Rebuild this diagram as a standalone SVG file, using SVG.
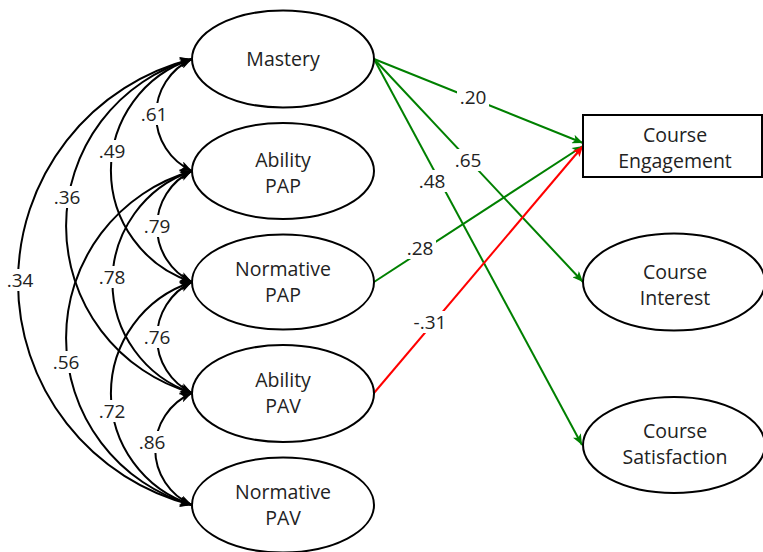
<svg xmlns="http://www.w3.org/2000/svg" width="763" height="552" viewBox="0 0 763 552">
<style>
  .node { fill: #fff; stroke: #000; stroke-width: 2; }
  .txt { font-family: "Open Sans", "Liberation Sans", sans-serif; font-size: 19.5px; fill: #222; text-anchor: middle; }
  .lbl { font-family: "Open Sans", "Liberation Sans", sans-serif; font-size: 19px; fill: #222; text-anchor: middle; }
  .cov { fill: none; stroke: #000; stroke-width: 2; marker-start: url(#ahK); marker-end: url(#ahK); }
  .pos { fill: none; stroke: #008000; stroke-width: 2; marker-end: url(#ahG); }
  .neg { fill: none; stroke: #ff0000; stroke-width: 2; marker-end: url(#ahR); }
  .bg { fill: #fff; stroke: none; }
</style>
<defs>
  <marker id="ahK" viewBox="0 0 12 10" refX="12" refY="5" markerWidth="13" markerHeight="10" markerUnits="userSpaceOnUse" orient="auto-start-reverse">
    <path d="M0,0 L12,5 L0,10 L3,5 z" fill="#000"/>
  </marker>
  <marker id="ahG" viewBox="0 0 12 10" refX="12" refY="5" markerWidth="12" markerHeight="9" markerUnits="userSpaceOnUse" orient="auto">
    <path d="M0,0 L12,5 L0,10 L3,5 z" fill="#008000"/>
  </marker>
  <marker id="ahR" viewBox="0 0 12 10" refX="12" refY="5" markerWidth="12" markerHeight="9" markerUnits="userSpaceOnUse" orient="auto">
    <path d="M0,0 L12,5 L0,10 L3,5 z" fill="#ff0000"/>
  </marker>
</defs>

<g id="connectors">
  <!-- covariances -->
  <path class="cov" d="M192,59 A61.6,61.6 0 0 0 192,171"/>
  <path class="cov" d="M192,171 A61.5,61.5 0 0 0 192,282"/>
  <path class="cov" d="M192,282 A61.5,61.5 0 0 0 192,393"/>
  <path class="cov" d="M192,393 A61,61 0 0 0 192,505"/>
  <path class="cov" d="M192,59 A117.2,117.2 0 0 0 192,282"/>
  <path class="cov" d="M192,171 A117.2,117.2 0 0 0 192,393"/>
  <path class="cov" d="M192,282 A117.2,117.2 0 0 0 192,505"/>
  <path class="cov" d="M192,59 A173.7,173.7 0 0 0 192,393"/>
  <path class="cov" d="M192,171 A173.7,173.7 0 0 0 192,505"/>
  <path class="cov" d="M192,59 A229.9,229.9 0 0 0 192,505"/>
  <!-- paths -->
  <path class="pos" d="M374,59 L583,143"/>
  <path class="pos" d="M374,59 L583,282"/>
  <path class="pos" d="M374,59 L582,445"/>
  <path class="pos" d="M374,282 L583,146"/>
  <path class="neg" d="M374,393 L583,146"/>
  <!-- label backgrounds -->
  <rect class="bg" x="138" y="103" width="32" height="22"/>
  <rect class="bg" x="96" y="140" width="32" height="22"/>
  <rect class="bg" x="51" y="186" width="32" height="22"/>
  <rect class="bg" x="4" y="269" width="32" height="22"/>
  <rect class="bg" x="141" y="215" width="32" height="22"/>
  <rect class="bg" x="96" y="266" width="32" height="22"/>
  <rect class="bg" x="141" y="326" width="32" height="22"/>
  <rect class="bg" x="50" y="351" width="32" height="22"/>
  <rect class="bg" x="96" y="400" width="32" height="22"/>
  <rect class="bg" x="136" y="431" width="32" height="22"/>
  <rect class="bg" x="457" y="86" width="32" height="22"/>
  <rect class="bg" x="452" y="149" width="32" height="22"/>
  <rect class="bg" x="416" y="170" width="32" height="22"/>
  <rect class="bg" x="404" y="237" width="32" height="22"/>
  <rect class="bg" x="411" y="311" width="38" height="22"/>
  <!-- labels -->
  <text class="lbl" x="154" y="121">.61</text>
  <text class="lbl" x="112" y="158">.49</text>
  <text class="lbl" x="67" y="204">.36</text>
  <text class="lbl" x="20" y="287">.34</text>
  <text class="lbl" x="157" y="233">.79</text>
  <text class="lbl" x="112" y="284">.78</text>
  <text class="lbl" x="157" y="344">.76</text>
  <text class="lbl" x="66" y="369">.56</text>
  <text class="lbl" x="112" y="418">.72</text>
  <text class="lbl" x="152" y="449">.86</text>
  <text class="lbl" x="473" y="104">.20</text>
  <text class="lbl" x="468" y="167">.65</text>
  <text class="lbl" x="432" y="188">.48</text>
  <text class="lbl" x="420" y="255">.28</text>
  <text class="lbl" x="430" y="329">-.31</text>
</g>

<g id="mastery">
  <ellipse class="node" cx="283" cy="59" rx="91" ry="48.5"/>
  <text class="txt" x="283" y="66">Mastery</text>
</g>
<g id="ability-pap">
  <ellipse class="node" cx="283" cy="171" rx="91" ry="48"/>
  <text class="txt" x="283" y="167">Ability</text>
  <text class="txt" x="283" y="193">PAP</text>
</g>
<g id="normative-pap">
  <ellipse class="node" cx="283" cy="282" rx="91" ry="47.5"/>
  <text class="txt" x="283" y="276">Normative</text>
  <text class="txt" x="283" y="302">PAP</text>
</g>
<g id="ability-pav">
  <ellipse class="node" cx="283" cy="393.5" rx="91" ry="48.5"/>
  <text class="txt" x="283" y="387">Ability</text>
  <text class="txt" x="283" y="413">PAV</text>
</g>
<g id="normative-pav">
  <ellipse class="node" cx="283" cy="505" rx="91" ry="47.5"/>
  <text class="txt" x="283" y="499">Normative</text>
  <text class="txt" x="283" y="525">PAV</text>
</g>
<g id="course-engagement">
  <rect class="node" x="583" y="115" width="179" height="62"/>
  <text class="txt" x="675" y="142">Course</text>
  <text class="txt" x="675" y="168">Engagement</text>
</g>
<g id="course-interest">
  <ellipse class="node" cx="674" cy="282" rx="91" ry="48.5"/>
  <text class="txt" x="675" y="279">Course</text>
  <text class="txt" x="675" y="305">Interest</text>
</g>
<g id="course-satisfaction">
  <ellipse class="node" cx="674" cy="445" rx="91" ry="48"/>
  <text class="txt" x="675" y="438">Course</text>
  <text class="txt" x="675" y="464">Satisfaction</text>
</g>
</svg>
